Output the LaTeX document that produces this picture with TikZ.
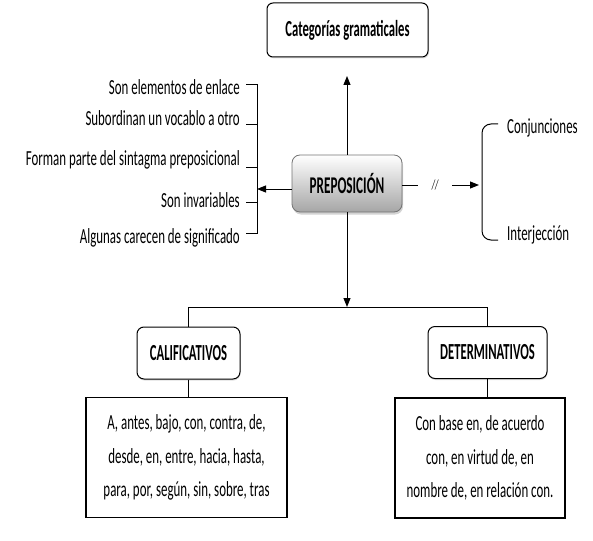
\documentclass[tikz,border=0pt]{standalone}
\usepackage{fontspec}
\setmainfont{Carlito}[FakeStretch=0.6]
\newfontfamily\headfont{Carlito}[FakeStretch=0.55]
\usetikzlibrary{arrows.meta, positioning, calc, shadows}

\begin{document}
\begin{tikzpicture}[x=1pt, y=-1pt, font=\fontsize{21.5}{24}\selectfont,
  catbox/.style = {draw, rounded corners=6pt, minimum width=161pt, minimum height=54pt, align=center, fill=white, line width=1pt, font=\fontsize{23}{26}\headfont\bfseries, drop shadow={opacity=0.25, shadow xshift=1pt, shadow yshift=-1.5pt}},
  prepbox/.style = {draw=black!55, rounded corners=8pt, minimum width=110pt, minimum height=57pt, align=center, top color=white, bottom color=black!35, line width=0.8pt, font=\fontsize{24}{26}\headfont\bfseries, drop shadow={opacity=0.35, shadow xshift=1pt, shadow yshift=-2.5pt}},
  tipobox/.style = {draw, rounded corners=7pt, minimum height=52pt, align=center, fill=white, line width=1pt, font=\fontsize{23}{26}\headfont\bfseries, drop shadow={opacity=0.25, shadow xshift=0.5pt, shadow yshift=-1.5pt}},
  listbox/.style = {draw, minimum height=120pt, align=center, fill=white, line width=1.1pt, font=\fontsize{21.5}{33.5}\selectfont},
  featlabel/.style = {anchor=east, inner sep=0pt},
  line/.style = {line width=1pt},
  arrow/.style = {-{Triangle[length=9pt, width=7pt]}, line width=1pt}
]
\useasboundingbox (0,0) rectangle (593,540);

\node[catbox] (cat) at (347.5,30) {Categorías gramaticales};
\node[prepbox] (prep) at (347,183.5) {PREPOSICIÓN};
\coordinate (uptip) at (347,76);
\draw[arrow] (prep.north) -- (uptip);

% caracteristicas
\coordinate (featbar) at (257,189);
\draw[arrow] ([yshift=-5.5pt]prep.west) -- (featbar);
\draw[line] (246,85) -- (257,85) -- (257,233) -- (246,233);
\foreach \ty in {125,167,202}
  \draw[line] (246,\ty) -- (257,\ty);
\foreach \txt/\ly [count=\i] in {Son elementos de enlace/87, Subordinan un vocablo a otro/118, Forman parte del sintagma preposicional/160, Son invariables/200, Algunas carecen de significado/238}
  \node[featlabel] (feat\i) at (240,\ly) {\txt};

% diferencia
\node[minimum width=34pt, inner sep=0pt, font=\fontsize{14}{16}\selectfont\itshape] (slash) at (435,185) {//};
\coordinate (bracetip) at (479,185);
\draw[line] ([yshift=-1.5pt]prep.east) -- (slash.west);
\draw[arrow] (slash.east) -- (bracetip);
\draw[line, rounded corners=9pt] (498,124) -- (482,124) -- (482,240) -- (498,240);
\node[anchor=west, inner sep=0pt] (conj) at (507,128) {Conjunciones};
\node[anchor=west, inner sep=0pt] (interj) at (507,235) {Interjección};

% clases
\node[tipobox, minimum width=103pt] (cal) at (188.5,353) {CALIFICATIVOS};
\node[tipobox, minimum width=119pt] (det) at (487.5,352.5) {DETERMINATIVOS};
\node[listbox, minimum width=201pt] (callist) at (186.5,457.5) {A, antes, bajo, con, contra, de,\\desde, en, entre, hacia, hasta,\\para, por, según, sin, sobre, tras};
\node[listbox, minimum width=170pt] (detlist) at (480,458) {Con base en, de acuerdo\\con, en virtud de, en\\nombre de, en relación con.};
\coordinate (split) at (347,307);
\draw[arrow] (prep.south) -- (split);
\draw[line] (cal.north) -- (cal.north |- split) -- (det.north |- split) -- (det.north);
\draw[line] (cal.south) -- (cal.south |- callist.north);
\draw[line] (det.south) -- (det.south |- detlist.north);
\end{tikzpicture}
\end{document}
